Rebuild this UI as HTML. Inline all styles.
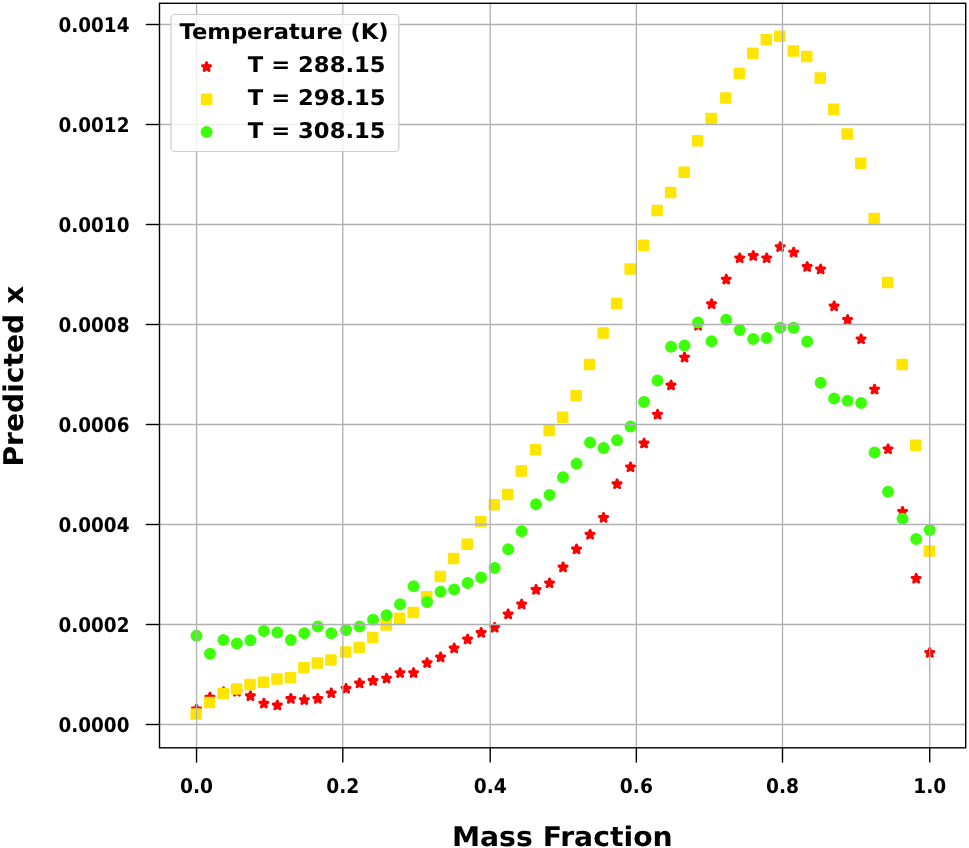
<!DOCTYPE html>
<html><head><meta charset="utf-8"><title>Predicted x vs Mass Fraction</title>
<style>
html,body{margin:0;padding:0;background:#fff;}
body{width:969px;height:848px;overflow:hidden;}
svg{display:block;filter:blur(0.5px);}
text{text-rendering:geometricPrecision;font-family:"DejaVu Sans","Liberation Sans",sans-serif;font-weight:bold;fill:#000;}
</style></head>
<body>
<svg width="969" height="848" viewBox="0 0 969 848">
<rect width="969" height="848" fill="#fff"/>
<g fill="#ff0000" stroke="#ff0000" stroke-width="2.9" stroke-linejoin="round">
<polygon points="196.50,705.10 195.53,708.07 192.41,708.07 194.94,709.91 193.97,712.88 196.50,711.04 199.03,712.88 198.06,709.91 200.59,708.07 197.47,708.07"/>
<polygon points="209.98,693.20 209.01,696.17 205.89,696.17 208.42,698.01 207.45,700.98 209.98,699.14 212.51,700.98 211.54,698.01 214.07,696.17 210.94,696.17"/>
<polygon points="223.46,687.80 222.49,690.77 219.37,690.77 221.89,692.61 220.93,695.58 223.46,693.74 225.98,695.58 225.02,692.61 227.55,690.77 224.42,690.77"/>
<polygon points="236.93,687.40 235.97,690.37 232.84,690.37 235.37,692.21 234.41,695.18 236.93,693.34 239.46,695.18 238.50,692.21 241.02,690.37 237.90,690.37"/>
<polygon points="250.41,691.80 249.45,694.77 246.32,694.77 248.85,696.61 247.88,699.58 250.41,697.74 252.94,699.58 251.97,696.61 254.50,694.77 251.38,694.77"/>
<polygon points="263.89,699.20 262.92,702.17 259.80,702.17 262.33,704.01 261.36,706.98 263.89,705.14 266.42,706.98 265.45,704.01 267.98,702.17 264.85,702.17"/>
<polygon points="277.37,701.10 276.40,704.07 273.28,704.07 275.80,705.91 274.84,708.88 277.37,707.04 279.89,708.88 278.93,705.91 281.46,704.07 278.33,704.07"/>
<polygon points="290.84,694.50 289.88,697.47 286.75,697.47 289.28,699.31 288.32,702.28 290.84,700.44 293.37,702.28 292.41,699.31 294.93,697.47 291.81,697.47"/>
<polygon points="304.32,695.70 303.36,698.67 300.23,698.67 302.76,700.51 301.79,703.48 304.32,701.64 306.85,703.48 305.88,700.51 308.41,698.67 305.29,698.67"/>
<polygon points="317.80,694.50 316.83,697.47 313.71,697.47 316.24,699.31 315.27,702.28 317.80,700.44 320.33,702.28 319.36,699.31 321.89,697.47 318.77,697.47"/>
<polygon points="331.28,688.90 330.31,691.87 327.19,691.87 329.72,693.71 328.75,696.68 331.28,694.84 333.81,696.68 332.84,693.71 335.37,691.87 332.24,691.87"/>
<polygon points="346.06,684.40 345.09,687.37 341.97,687.37 344.49,689.21 343.53,692.18 346.06,690.34 348.58,692.18 347.62,689.21 350.15,687.37 347.02,687.37"/>
<polygon points="359.56,679.00 358.60,681.97 355.47,681.97 358.00,683.81 357.04,686.78 359.56,684.94 362.09,686.78 361.13,683.81 363.65,681.97 360.53,681.97"/>
<polygon points="373.07,676.50 372.11,679.47 368.98,679.47 371.51,681.31 370.55,684.28 373.07,682.44 375.60,684.28 374.63,681.31 377.16,679.47 374.04,679.47"/>
<polygon points="386.58,674.20 385.62,677.17 382.49,677.17 385.02,679.01 384.05,681.98 386.58,680.14 389.11,681.98 388.14,679.01 390.67,677.17 387.55,677.17"/>
<polygon points="400.09,668.70 399.12,671.67 396.00,671.67 398.53,673.51 397.56,676.48 400.09,674.64 402.62,676.48 401.65,673.51 404.18,671.67 401.06,671.67"/>
<polygon points="413.60,668.70 412.63,671.67 409.51,671.67 412.04,673.51 411.07,676.48 413.60,674.64 416.13,676.48 415.16,673.51 417.69,671.67 414.56,671.67"/>
<polygon points="427.11,658.70 426.14,661.67 423.02,661.67 425.54,663.51 424.58,666.48 427.11,664.64 429.63,666.48 428.67,663.51 431.20,661.67 428.07,661.67"/>
<polygon points="440.62,653.00 439.65,655.97 436.53,655.97 439.05,657.81 438.09,660.78 440.62,658.94 443.14,660.78 442.18,657.81 444.70,655.97 441.58,655.97"/>
<polygon points="454.12,644.10 453.16,647.07 450.03,647.07 452.56,648.91 451.60,651.88 454.12,650.04 456.65,651.88 455.69,648.91 458.21,647.07 455.09,647.07"/>
<polygon points="467.63,635.10 466.67,638.07 463.54,638.07 466.07,639.91 465.11,642.88 467.63,641.04 470.16,642.88 469.19,639.91 471.72,638.07 468.60,638.07"/>
<polygon points="481.14,628.50 480.18,631.47 477.05,631.47 479.58,633.31 478.61,636.28 481.14,634.44 483.67,636.28 482.70,633.31 485.23,631.47 482.11,631.47"/>
<polygon points="494.65,623.40 493.68,626.37 490.56,626.37 493.09,628.21 492.12,631.18 494.65,629.34 497.18,631.18 496.21,628.21 498.74,626.37 495.61,626.37"/>
<polygon points="508.16,610.00 507.19,612.97 504.07,612.97 506.60,614.81 505.63,617.78 508.16,615.94 510.69,617.78 509.72,614.81 512.25,612.97 509.12,612.97"/>
<polygon points="521.67,600.10 520.70,603.07 517.58,603.07 520.10,604.91 519.14,607.88 521.67,606.04 524.19,607.88 523.23,604.91 525.76,603.07 522.63,603.07"/>
<polygon points="536.04,585.50 535.08,588.47 531.95,588.47 534.48,590.31 533.52,593.28 536.04,591.44 538.57,593.28 537.61,590.31 540.13,588.47 537.01,588.47"/>
<polygon points="549.55,578.90 548.58,581.87 545.46,581.87 547.98,583.71 547.02,586.68 549.55,584.84 552.07,586.68 551.11,583.71 553.63,581.87 550.51,581.87"/>
<polygon points="563.05,563.00 562.08,565.97 558.96,565.97 561.48,567.81 560.52,570.78 563.05,568.94 565.57,570.78 564.61,567.81 567.14,565.97 564.01,565.97"/>
<polygon points="576.55,545.00 575.58,547.97 572.46,547.97 574.98,549.81 574.02,552.78 576.55,550.94 579.07,552.78 578.11,549.81 580.64,547.97 577.51,547.97"/>
<polygon points="590.05,530.30 589.08,533.27 585.96,533.27 588.49,535.11 587.52,538.08 590.05,536.24 592.58,538.08 591.61,535.11 594.14,533.27 591.01,533.27"/>
<polygon points="603.55,513.50 602.58,516.47 599.46,516.47 601.99,518.31 601.02,521.28 603.55,519.44 606.08,521.28 605.11,518.31 607.64,516.47 604.51,516.47"/>
<polygon points="617.05,479.80 616.08,482.77 612.96,482.77 615.49,484.61 614.52,487.58 617.05,485.74 619.58,487.58 618.61,484.61 621.14,482.77 618.01,482.77"/>
<polygon points="630.55,462.90 629.59,465.87 626.46,465.87 628.99,467.71 628.02,470.68 630.55,468.84 633.08,470.68 632.11,467.71 634.64,465.87 631.52,465.87"/>
<polygon points="644.05,439.10 643.09,442.07 639.96,442.07 642.49,443.91 641.52,446.88 644.05,445.04 646.58,446.88 645.61,443.91 648.14,442.07 645.02,442.07"/>
<polygon points="657.55,410.30 656.59,413.27 653.46,413.27 655.99,415.11 655.02,418.08 657.55,416.24 660.08,418.08 659.11,415.11 661.64,413.27 658.52,413.27"/>
<polygon points="671.05,381.10 670.09,384.07 666.96,384.07 669.49,385.91 668.53,388.88 671.05,387.04 673.58,388.88 672.62,385.91 675.14,384.07 672.02,384.07"/>
<polygon points="684.55,353.20 683.59,356.17 680.46,356.17 682.99,358.01 682.03,360.98 684.55,359.14 687.08,360.98 686.12,358.01 688.64,356.17 685.52,356.17"/>
<polygon points="698.05,321.40 697.09,324.37 693.97,324.37 696.49,326.21 695.53,329.18 698.05,327.34 700.58,329.18 699.62,326.21 702.14,324.37 699.02,324.37"/>
<polygon points="711.56,299.80 710.59,302.77 707.47,302.77 709.99,304.61 709.03,307.58 711.56,305.74 714.08,307.58 713.12,304.61 715.65,302.77 712.52,302.77"/>
<polygon points="726.23,275.20 725.27,278.17 722.14,278.17 724.67,280.01 723.71,282.98 726.23,281.14 728.76,282.98 727.80,280.01 730.32,278.17 727.20,278.17"/>
<polygon points="739.72,253.90 738.75,256.87 735.63,256.87 738.16,258.71 737.19,261.68 739.72,259.84 742.25,261.68 741.28,258.71 743.81,256.87 740.68,256.87"/>
<polygon points="753.21,251.60 752.24,254.57 749.12,254.57 751.64,256.41 750.68,259.38 753.21,257.54 755.73,259.38 754.77,256.41 757.30,254.57 754.17,254.57"/>
<polygon points="766.69,253.90 765.73,256.87 762.60,256.87 765.13,258.71 764.16,261.68 766.69,259.84 769.22,261.68 768.25,258.71 770.78,256.87 767.66,256.87"/>
<polygon points="780.18,242.70 779.21,245.67 776.09,245.67 778.62,247.51 777.65,250.48 780.18,248.64 782.71,250.48 781.74,247.51 784.27,245.67 781.14,245.67"/>
<polygon points="793.66,248.20 792.70,251.17 789.57,251.17 792.10,253.01 791.14,255.98 793.66,254.14 796.19,255.98 795.23,253.01 797.75,251.17 794.63,251.17"/>
<polygon points="807.15,262.60 806.18,265.57 803.06,265.57 805.59,267.41 804.62,270.38 807.15,268.54 809.68,270.38 808.71,267.41 811.24,265.57 808.12,265.57"/>
<polygon points="820.64,265.10 819.67,268.07 816.55,268.07 819.07,269.91 818.11,272.88 820.64,271.04 823.16,272.88 822.20,269.91 824.73,268.07 821.60,268.07"/>
<polygon points="834.12,302.00 833.16,304.97 830.03,304.97 832.56,306.81 831.59,309.78 834.12,307.94 836.65,309.78 835.68,306.81 838.21,304.97 835.09,304.97"/>
<polygon points="847.61,315.60 846.64,318.57 843.52,318.57 846.05,320.41 845.08,323.38 847.61,321.54 850.14,323.38 849.17,320.41 851.70,318.57 848.57,318.57"/>
<polygon points="861.09,334.90 860.13,337.87 857.00,337.87 859.53,339.71 858.57,342.68 861.09,340.84 863.62,342.68 862.66,339.71 865.18,337.87 862.06,337.87"/>
<polygon points="874.58,385.20 873.62,388.17 870.49,388.17 873.02,390.01 872.05,392.98 874.58,391.14 877.11,392.98 876.14,390.01 878.67,388.17 875.55,388.17"/>
<polygon points="888.07,444.90 887.10,447.87 883.98,447.87 886.50,449.71 885.54,452.68 888.07,450.84 890.59,452.68 889.63,449.71 892.16,447.87 889.03,447.87"/>
<polygon points="902.59,507.40 901.63,510.37 898.50,510.37 901.03,512.21 900.07,515.18 902.59,513.34 905.12,515.18 904.16,512.21 906.68,510.37 903.56,510.37"/>
<polygon points="916.17,574.40 915.21,577.37 912.08,577.37 914.61,579.21 913.64,582.18 916.17,580.34 918.70,582.18 917.73,579.21 920.26,577.37 917.14,577.37"/>
<polygon points="929.75,648.50 928.78,651.47 925.66,651.47 928.19,653.31 927.22,656.28 929.75,654.44 932.28,656.28 931.31,653.31 933.84,651.47 930.72,651.47"/>
</g>
<g fill="#ffe500" stroke="#ffe500" stroke-width="1.9" stroke-linejoin="round">
<rect x="191.30" y="709.20" width="9.6" height="9.6"/>
<rect x="204.78" y="697.70" width="9.6" height="9.6"/>
<rect x="218.26" y="688.80" width="9.6" height="9.6"/>
<rect x="231.73" y="684.10" width="9.6" height="9.6"/>
<rect x="245.21" y="679.70" width="9.6" height="9.6"/>
<rect x="258.69" y="677.50" width="9.6" height="9.6"/>
<rect x="272.17" y="674.10" width="9.6" height="9.6"/>
<rect x="285.64" y="672.90" width="9.6" height="9.6"/>
<rect x="299.12" y="662.90" width="9.6" height="9.6"/>
<rect x="312.60" y="658.30" width="9.6" height="9.6"/>
<rect x="326.08" y="655.10" width="9.6" height="9.6"/>
<rect x="340.86" y="647.30" width="9.6" height="9.6"/>
<rect x="354.36" y="642.70" width="9.6" height="9.6"/>
<rect x="367.87" y="632.70" width="9.6" height="9.6"/>
<rect x="381.38" y="620.20" width="9.6" height="9.6"/>
<rect x="394.89" y="613.40" width="9.6" height="9.6"/>
<rect x="408.40" y="607.80" width="9.6" height="9.6"/>
<rect x="421.91" y="592.00" width="9.6" height="9.6"/>
<rect x="435.42" y="571.80" width="9.6" height="9.6"/>
<rect x="448.92" y="553.80" width="9.6" height="9.6"/>
<rect x="462.43" y="539.40" width="9.6" height="9.6"/>
<rect x="475.94" y="517.00" width="9.6" height="9.6"/>
<rect x="489.45" y="500.00" width="9.6" height="9.6"/>
<rect x="502.96" y="489.80" width="9.6" height="9.6"/>
<rect x="516.47" y="466.30" width="9.6" height="9.6"/>
<rect x="530.84" y="445.00" width="9.6" height="9.6"/>
<rect x="544.35" y="425.80" width="9.6" height="9.6"/>
<rect x="557.85" y="412.40" width="9.6" height="9.6"/>
<rect x="571.35" y="391.00" width="9.6" height="9.6"/>
<rect x="584.85" y="359.60" width="9.6" height="9.6"/>
<rect x="598.35" y="328.20" width="9.6" height="9.6"/>
<rect x="611.85" y="298.80" width="9.6" height="9.6"/>
<rect x="625.35" y="264.20" width="9.6" height="9.6"/>
<rect x="638.85" y="240.40" width="9.6" height="9.6"/>
<rect x="652.35" y="205.70" width="9.6" height="9.6"/>
<rect x="665.85" y="187.80" width="9.6" height="9.6"/>
<rect x="679.35" y="167.50" width="9.6" height="9.6"/>
<rect x="692.85" y="136.00" width="9.6" height="9.6"/>
<rect x="706.36" y="113.60" width="9.6" height="9.6"/>
<rect x="721.03" y="93.30" width="9.6" height="9.6"/>
<rect x="734.52" y="68.70" width="9.6" height="9.6"/>
<rect x="748.01" y="48.40" width="9.6" height="9.6"/>
<rect x="761.49" y="34.90" width="9.6" height="9.6"/>
<rect x="774.98" y="31.50" width="9.6" height="9.6"/>
<rect x="788.46" y="46.20" width="9.6" height="9.6"/>
<rect x="801.95" y="51.80" width="9.6" height="9.6"/>
<rect x="815.44" y="73.10" width="9.6" height="9.6"/>
<rect x="828.92" y="104.40" width="9.6" height="9.6"/>
<rect x="842.41" y="129.20" width="9.6" height="9.6"/>
<rect x="855.89" y="158.50" width="9.6" height="9.6"/>
<rect x="869.38" y="213.60" width="9.6" height="9.6"/>
<rect x="882.87" y="277.60" width="9.6" height="9.6"/>
<rect x="897.39" y="359.80" width="9.6" height="9.6"/>
<rect x="910.97" y="440.50" width="9.6" height="9.6"/>
<rect x="924.55" y="546.20" width="9.6" height="9.6"/>
</g>
<g fill="#3dff0a" stroke="#3dff0a" stroke-width="1.9">
<circle cx="196.50" cy="635.80" r="5.05"/>
<circle cx="209.98" cy="653.80" r="5.05"/>
<circle cx="223.46" cy="640.10" r="5.05"/>
<circle cx="236.93" cy="643.60" r="5.05"/>
<circle cx="250.41" cy="640.20" r="5.05"/>
<circle cx="263.89" cy="631.10" r="5.05"/>
<circle cx="277.37" cy="632.40" r="5.05"/>
<circle cx="290.84" cy="640.00" r="5.05"/>
<circle cx="304.32" cy="633.30" r="5.05"/>
<circle cx="317.80" cy="626.40" r="5.05"/>
<circle cx="331.28" cy="633.30" r="5.05"/>
<circle cx="346.06" cy="630.10" r="5.05"/>
<circle cx="359.56" cy="626.40" r="5.05"/>
<circle cx="373.07" cy="619.80" r="5.05"/>
<circle cx="386.58" cy="615.30" r="5.05"/>
<circle cx="400.09" cy="604.20" r="5.05"/>
<circle cx="413.60" cy="586.20" r="5.05"/>
<circle cx="427.11" cy="601.90" r="5.05"/>
<circle cx="440.62" cy="591.80" r="5.05"/>
<circle cx="454.12" cy="589.60" r="5.05"/>
<circle cx="467.63" cy="583.00" r="5.05"/>
<circle cx="481.14" cy="577.40" r="5.05"/>
<circle cx="494.65" cy="568.10" r="5.05"/>
<circle cx="508.16" cy="549.20" r="5.05"/>
<circle cx="521.67" cy="531.20" r="5.05"/>
<circle cx="536.04" cy="504.20" r="5.05"/>
<circle cx="549.55" cy="495.00" r="5.05"/>
<circle cx="563.05" cy="477.30" r="5.05"/>
<circle cx="576.55" cy="463.80" r="5.05"/>
<circle cx="590.05" cy="442.40" r="5.05"/>
<circle cx="603.55" cy="448.00" r="5.05"/>
<circle cx="617.05" cy="440.20" r="5.05"/>
<circle cx="630.55" cy="426.50" r="5.05"/>
<circle cx="644.05" cy="401.90" r="5.05"/>
<circle cx="657.55" cy="380.50" r="5.05"/>
<circle cx="671.05" cy="346.80" r="5.05"/>
<circle cx="684.55" cy="345.60" r="5.05"/>
<circle cx="698.05" cy="322.50" r="5.05"/>
<circle cx="711.56" cy="341.20" r="5.05"/>
<circle cx="726.23" cy="319.80" r="5.05"/>
<circle cx="739.72" cy="330.00" r="5.05"/>
<circle cx="753.21" cy="339.00" r="5.05"/>
<circle cx="766.69" cy="338.10" r="5.05"/>
<circle cx="780.18" cy="327.80" r="5.05"/>
<circle cx="793.66" cy="327.80" r="5.05"/>
<circle cx="807.15" cy="341.40" r="5.05"/>
<circle cx="820.64" cy="382.80" r="5.05"/>
<circle cx="834.12" cy="398.60" r="5.05"/>
<circle cx="847.61" cy="400.80" r="5.05"/>
<circle cx="861.09" cy="403.10" r="5.05"/>
<circle cx="874.58" cy="452.50" r="5.05"/>
<circle cx="888.07" cy="491.80" r="5.05"/>
<circle cx="902.59" cy="518.70" r="5.05"/>
<circle cx="916.17" cy="538.90" r="5.05"/>
<circle cx="929.75" cy="530.10" r="5.05"/>
</g>
<g stroke="#b0b0b0" stroke-width="1.3">
<line x1="159.5" x2="965.7" y1="724.5" y2="724.5"/>
<line x1="159.5" x2="965.7" y1="624.5" y2="624.5"/>
<line x1="159.5" x2="965.7" y1="524.5" y2="524.5"/>
<line x1="159.5" x2="965.7" y1="424.5" y2="424.5"/>
<line x1="159.5" x2="965.7" y1="324.5" y2="324.5"/>
<line x1="159.5" x2="965.7" y1="224.5" y2="224.5"/>
<line x1="159.5" x2="965.7" y1="124.5" y2="124.5"/>
<line x1="159.5" x2="965.7" y1="24.5" y2="24.5"/>
<line x1="196.55" x2="196.55" y1="3.3" y2="747.8"/>
<line x1="342.80" x2="342.80" y1="3.3" y2="747.8"/>
<line x1="490.20" x2="490.20" y1="3.3" y2="747.8"/>
<line x1="636.35" x2="636.35" y1="3.3" y2="747.8"/>
<line x1="782.50" x2="782.50" y1="3.3" y2="747.8"/>
<line x1="929.70" x2="929.70" y1="3.3" y2="747.8"/>
</g>
<rect x="159.5" y="3.3" width="806.2" height="744.5" fill="none" stroke="#000" stroke-width="1.4"/>
<g stroke="#000" stroke-width="1.4">
<line x1="145.8" x2="159.5" y1="724.5" y2="724.5"/>
<line x1="145.8" x2="159.5" y1="624.5" y2="624.5"/>
<line x1="145.8" x2="159.5" y1="524.5" y2="524.5"/>
<line x1="145.8" x2="159.5" y1="424.5" y2="424.5"/>
<line x1="145.8" x2="159.5" y1="324.5" y2="324.5"/>
<line x1="145.8" x2="159.5" y1="224.5" y2="224.5"/>
<line x1="145.8" x2="159.5" y1="124.5" y2="124.5"/>
<line x1="145.8" x2="159.5" y1="24.5" y2="24.5"/>
<line x1="196.55" x2="196.55" y1="747.8" y2="762.5999999999999"/>
<line x1="342.80" x2="342.80" y1="747.8" y2="762.5999999999999"/>
<line x1="490.20" x2="490.20" y1="747.8" y2="762.5999999999999"/>
<line x1="636.35" x2="636.35" y1="747.8" y2="762.5999999999999"/>
<line x1="782.50" x2="782.50" y1="747.8" y2="762.5999999999999"/>
<line x1="929.70" x2="929.70" y1="747.8" y2="762.5999999999999"/>
</g>
<g font-size="18.2">
<text transform="matrix(1.012 0 0 1.11 129.47 731.92)" text-anchor="end">0.0000</text>
<text transform="matrix(1.012 0 0 1.11 129.47 631.92)" text-anchor="end">0.0002</text>
<text transform="matrix(1.012 0 0 1.11 129.47 531.92)" text-anchor="end">0.0004</text>
<text transform="matrix(1.012 0 0 1.11 129.47 431.92)" text-anchor="end">0.0006</text>
<text transform="matrix(1.012 0 0 1.11 129.47 331.92)" text-anchor="end">0.0008</text>
<text transform="matrix(1.012 0 0 1.11 129.47 231.92)" text-anchor="end">0.0010</text>
<text transform="matrix(1.012 0 0 1.11 129.47 131.92)" text-anchor="end">0.0012</text>
<text transform="matrix(1.012 0 0 1.11 129.47 31.92)" text-anchor="end">0.0014</text>
<text transform="matrix(1.025 0 0 1.11 196.55 792.56)" text-anchor="middle">0.0</text>
<text transform="matrix(1.025 0 0 1.11 342.80 792.56)" text-anchor="middle">0.2</text>
<text transform="matrix(1.025 0 0 1.11 490.20 792.56)" text-anchor="middle">0.4</text>
<text transform="matrix(1.025 0 0 1.11 636.35 792.56)" text-anchor="middle">0.6</text>
<text transform="matrix(1.025 0 0 1.11 782.50 792.56)" text-anchor="middle">0.8</text>
<text transform="matrix(1.025 0 0 1.11 929.70 792.56)" text-anchor="middle">1.0</text>
</g>
<text transform="matrix(1.005 0 0 0.965 562.3 846.3)" text-anchor="middle" font-size="28.15">Mass Fraction</text>
<text transform="translate(22.6,376.2) rotate(-90) scale(1,0.965)" text-anchor="middle" font-size="28.15">Predicted x</text>

<rect x="171.0" y="14.5" width="227.9" height="137.0" rx="4" ry="4" fill="#ffffff" fill-opacity="0.8" stroke="#cccccc" stroke-width="1.2"/>
<g font-size="22.3">
<text transform="matrix(1.017 0 0 0.97 284.08 39.3)" text-anchor="middle">Temperature (K)</text>
<text transform="matrix(1.017 0 0 0.97 247.83 72.3)">T = 288.15</text>
<text transform="matrix(1.017 0 0 0.97 247.83 105.2)">T = 298.15</text>
<text transform="matrix(1.017 0 0 0.97 247.83 138.1)">T = 308.15</text>
</g>
<g fill="#ff0000" stroke="#ff0000" stroke-width="2.9" stroke-linejoin="round"><polygon points="206.60,62.70 205.63,65.67 202.51,65.67 205.04,67.51 204.07,70.48 206.60,68.64 209.13,70.48 208.16,67.51 210.69,65.67 207.57,65.67"/></g>
<g fill="#ffe500" stroke="#ffe500" stroke-width="1.9" stroke-linejoin="round"><rect x="201.80" y="94.50" width="9.6" height="9.6"/></g>
<g fill="#3dff0a" stroke="#3dff0a" stroke-width="1.9"><circle cx="206.60" cy="131.90" r="5.05"/></g>

</svg>
</body></html>
